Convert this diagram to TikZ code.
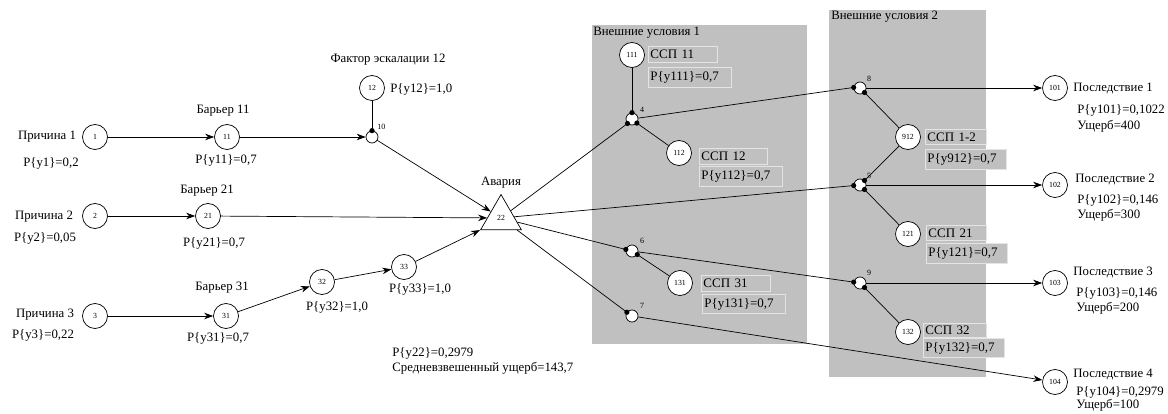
\documentclass[tikz,border=0pt]{standalone}
\usepackage{fontspec}
\setmainfont{Liberation Serif}
\usetikzlibrary{shapes.geometric,arrows.meta}
\definecolor{panelgray}{HTML}{C0C0C0}
\definecolor{boxline}{HTML}{E4E4E4}
\begin{document}
\begin{tikzpicture}[x=1pt,y=-1pt,line width=0.7pt,
  ev/.style={circle,draw,fill=white,minimum size=25pt,inner sep=0pt,font=\fontsize{7.8}{8}\selectfont},
  jn/.style={circle,draw,fill=white,minimum size=12pt,inner sep=0pt},
  lbl/.style={font=\fontsize{12.8}{14}\selectfont,inner sep=0pt},
  sm/.style={font=\fontsize{8}{9}\selectfont,inner sep=0pt},
  arr/.style={-{Stealth[length=9pt,width=6.5pt]}},
  panel/.style={fill=panelgray,draw=none},
  tbox/.style={draw=boxline,fill=panelgray,line width=0.9pt,font=\fontsize{13}{14}\selectfont,
    inner xsep=2pt,inner ysep=0pt,anchor=north west,align=left},
  dot/.style={fill=black}
  ]
\useasboundingbox (0,0) rectangle (1168,414);
% panels
\fill[panel] (592,25) rectangle (807,344);
\fill[panel] (829,10) rectangle (986,377);
\node[lbl,anchor=west] (pl1) at (593,33) {Внешние условия 1};
\node[lbl,anchor=west] (pl2) at (831,17) {Внешние условия 2};

% main nodes
\node[ev] (c1) at (95,137) {1};
\node[ev] (b11) at (227,137) {11};
\node[ev] (c2) at (95,216) {2};
\node[ev] (b21) at (208,216) {21};
\node[ev] (c3) at (95,316) {3};
\node[ev] (b31) at (226,316) {31};
\node[ev] (b32) at (322,282) {32};
\node[ev] (b33) at (404,267) {33};
\node[ev] (f12) at (372,88) {12};
\node[jn] (j10) at (372,137) {};
\node[regular polygon,regular polygon sides=3,draw,fill=white,minimum size=47pt,inner sep=0pt,
  font=\fontsize{7.8}{8}\selectfont] (t22) at (501,218) {22};

\node[jn] (j4) at (632,119) {};
\node[jn] (j6) at (632,251) {};
\node[jn] (j7) at (632,316) {};
\node[jn] (j8) at (860,88) {};
\node[jn] (j5) at (860,185) {};
\node[jn] (j9) at (860,283) {};

\node[ev] (n111) at (632,55) {111};
\node[ev] (n112) at (679,153) {112};
\node[ev] (n131) at (680,283) {131};
\node[ev] (n912) at (908,137) {912};
\node[ev] (n121) at (908,234) {121};
\node[ev] (n132) at (908,332) {132};
\node[ev] (n101) at (1055,88) {101};
\node[ev] (n102) at (1055,185) {102};
\node[ev] (n103) at (1055,283) {103};
\node[ev] (n104) at (1055,382) {104};

% left labels
\node[lbl] (l1) at (47,137) {Причина 1};
\node[lbl] (p1) at (51,163) {P\{y1\}=0,2};
\node[lbl] (l11) at (223,111) {Барьер 11};
\node[lbl] (p11) at (226,160) {P\{y11\}=0,7};
\node[lbl] (l2) at (44,217) {Причина 2};
\node[lbl] (p2) at (45,238) {P\{y2\}=0,05};
\node[lbl] (l21) at (207,191) {Барьер 21};
\node[lbl] (p21) at (214,243) {P\{y21\}=0,7};
\node[lbl] (l3) at (45,315) {Причина 3};
\node[lbl] (p3) at (43,335) {P\{y3\}=0,22};
\node[lbl] (l31) at (222,288) {Барьер 31};
\node[lbl] (p31) at (218,338) {P\{y31\}=0,7};
\node[lbl] (p32) at (337,307) {P\{y32\}=1,0};
\node[lbl] (p33) at (420,289) {P\{y33\}=1,0};
\node[lbl] (l12) at (388,60) {Фактор эскалации 12};
\node[lbl,anchor=west] (p12) at (390,89) {P\{y12\}=1,0};
\node[sm,anchor=west] (s10) at (377,127) {10};
\node[lbl] (lav) at (501,183) {Авария};
\node[lbl,anchor=west] (p22) at (392,353) {P\{y22\}=0,2979};
\node[lbl,anchor=west] (dmg) at (392,368) {Средневзвешенный ущерб=143,7};

% small junction labels
\node[sm] (s4) at (642,110) {4};
\node[sm] (s6) at (642,241) {6};
\node[sm] (s7) at (642,306) {7};
\node[sm] (s8) at (869,79) {8};
\node[sm] (s5) at (869,176) {5};
\node[sm] (s9) at (869,273) {9};

% boxes
\node[tbox,minimum height=16pt,text width=65pt] (x111a) at (648,46) {ССП 11};
\node[tbox,minimum height=20pt,text width=79pt] (x111b) at (648,67) {P\{y111\}=0,7};
\node[tbox,minimum height=16pt,text width=64pt] (x112a) at (699,148) {ССП 12};
\node[tbox,minimum height=20pt,text width=79pt] (x112b) at (699,166) {P\{y112\}=0,7};
\node[tbox,minimum height=16pt,text width=65pt] (x131a) at (701,275) {ССП 31};
\node[tbox,minimum height=19pt,text width=79pt] (x131b) at (702,294) {P\{y131\}=0,7};
\node[tbox,minimum height=15pt,text width=57pt] (x912a) at (925,129) {ССП 1-2};
\node[tbox,minimum height=20pt,text width=77pt] (x912b) at (925,149) {P\{y912\}=0,7};
\node[tbox,minimum height=15pt,text width=56pt] (x121a) at (926,225) {ССП 21};
\node[tbox,minimum height=20pt,text width=77pt] (x121b) at (926,243) {P\{y121\}=0,7};
\node[tbox,minimum height=14pt,text width=59pt] (x132a) at (923,323) {ССП 32};
\node[tbox,minimum height=19pt,text width=77pt] (x132b) at (923,338) {P\{y132\}=0,7};

% right labels
\node[lbl,anchor=west] (r1) at (1073,89) {Последствие 1};
\node[lbl,anchor=west] (r1p) at (1077,110) {P\{y101\}=0,1022};
\node[lbl,anchor=west] (r1u) at (1077,126) {Ущерб=400};
\node[lbl,anchor=west] (r2) at (1075,180) {Последствие 2};
\node[lbl,anchor=west] (r2p) at (1077,200) {P\{y102\}=0,146};
\node[lbl,anchor=west] (r2u) at (1077,215) {Ущерб=300};
\node[lbl,anchor=west] (r3) at (1073,273) {Последствие 3};
\node[lbl,anchor=west] (r3p) at (1076,293) {P\{y103\}=0,146};
\node[lbl,anchor=west] (r3u) at (1076,308) {Ущерб=200};
\node[lbl,anchor=west] (r4) at (1073,375) {Последствие 4};
\node[lbl,anchor=west] (r4p) at (1076,392) {P\{y104\}=0,2979};
\node[lbl,anchor=west] (r4u) at (1076,405) {Ущерб=100};

% connectors left part
\draw[arr] (c1) -- (b11);
\draw[arr] (b11) -- (j10);
\draw (f12) -- (j10.90);
\draw[arr] (j10) -- (t22);
\draw[arr] (c2) -- (b21);
\draw[arr] (b21) -- (t22);
\draw[arr] (c3) -- (b31);
\draw[arr] (b31) -- (b32);
\draw[arr] (b32) -- (b33);
\draw[arr] (b33) -- (t22.corner 2);

% from accident
\draw (t22) -- (j4.225);
\draw (t22) -- (j5.185);
\draw (t22) -- (j6.166);
\draw (t22) -- (j7.144);

% panel 1
\draw (n111) -- (j4.90);
\draw (j4.320) -- (n112);
\draw (j4) -- (j8.175);
\draw (j6.326) -- (n131);
\draw (j6) -- (j9.172);
\draw[arr] (j7) -- (n104);

% panel 2
\draw (j8.315) -- (n912);
\draw (n912) -- (j5.45);
\draw (j5.315) -- (n121);
\draw (j9.315) -- (n132);
\draw[arr] (j8) -- (n101);
\draw[arr] (j5) -- (n102);
\draw[arr] (j9) -- (n103);

% dots
\foreach \n/\a in {j10/90,j4/90,j4/225,j4/320,j6/166,j6/326,j7/144,j8/175,j8/315,j5/185,j5/45,j5/315,j9/172,j9/315}
  \fill[dot] (\n.\a) circle (2.6pt);
\end{tikzpicture}
\end{document}
